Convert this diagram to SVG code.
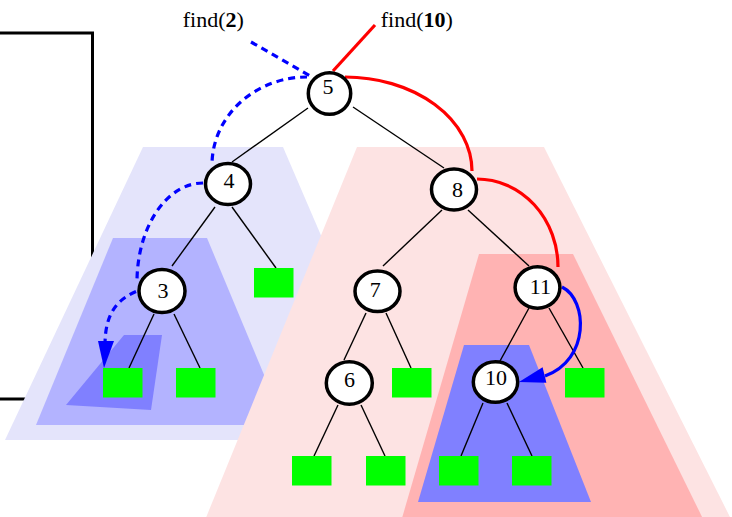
<svg xmlns="http://www.w3.org/2000/svg" width="732" height="517" viewBox="0 0 732 517">
<defs>
<style>
.node ellipse{fill:#fff;stroke:#000;stroke-width:3.5}
.node text{font-family:"Liberation Serif","Times New Roman",serif;font-size:22px;text-anchor:middle;fill:#000}
.leaf{fill:#00ff00}
.edge{stroke:#000;stroke-width:1.4;fill:none}
.red{stroke:#ff0000;stroke-width:3.2;fill:none}
.bdash{stroke:#0000ff;stroke-width:3.2;fill:none;stroke-dasharray:7,5}
.bsolid{stroke:#0000ff;stroke-width:3.2;fill:none}
.lbl{font-family:"Liberation Serif","Times New Roman",serif;font-size:22px;fill:#000}
</style>
</defs>
<rect x="-10" y="33" width="102.5" height="366" fill="none" stroke="#000" stroke-width="3"/>
<g id="regions">
<polygon points="143,147 283,147 409,440 5,440" fill="#e4e4fb"/>
<polygon points="113,238 207,238 285,425 36,425" fill="#b3b3ff"/>
<polygon points="124,335 162,335 151,410 66,405" fill="#8080ff"/>
<polygon points="357,147 544,147 734,525 203,525" fill="#fde3e3"/>
<polygon points="479,254 573,254 706,525 400,525" fill="#ffb3b3"/>
<polygon points="464,345 529,345 591,502 418,502" fill="#8080ff"/>
</g>
<g id="connectors">
<line class="edge" x1="308" y1="108" x2="232" y2="162"/>
<line class="edge" x1="353" y1="107" x2="444" y2="168"/>
<line class="edge" x1="215" y1="207" x2="172" y2="266"/>
<line class="edge" x1="232" y1="207" x2="276" y2="268"/>
<line class="edge" x1="154" y1="314" x2="129" y2="368"/>
<line class="edge" x1="174" y1="314" x2="200" y2="368"/>
<line class="edge" x1="442" y1="210" x2="383" y2="266"/>
<line class="edge" x1="468" y1="210" x2="529" y2="266"/>
<line class="edge" x1="366" y1="313" x2="344" y2="360"/>
<line class="edge" x1="386" y1="313" x2="411" y2="368"/>
<line class="edge" x1="338" y1="405" x2="314" y2="456"/>
<line class="edge" x1="361" y1="405" x2="385" y2="456"/>
<line class="edge" x1="529" y1="308" x2="500" y2="361"/>
<line class="edge" x1="549" y1="308" x2="583" y2="368"/>
<line class="edge" x1="483" y1="403" x2="461" y2="456"/>
<line class="edge" x1="507" y1="403" x2="532" y2="456"/>
<line class="red" x1="375" y1="25" x2="333" y2="71"/>
<path class="red" d="M345,77 A127,94 0 0 1 472,171"/>
<path class="red" d="M477,179 A81,88 0 0 1 558,267"/>
<line class="bdash" x1="251" y1="42" x2="312" y2="77"/>
<path class="bdash" d="M307,77 A95,88 0 0 0 212,165"/>
<path class="bdash" d="M203,183 A66,99 0 0 0 137,282"/>
<path class="bdash" d="M136,291.5 C116,300 105,315 105,345"/>
<path class="bsolid" d="M562,287 C588,300 590,360 545,376"/>
<polygon points="98,341 114,341 104,368" fill="#0000ff"/>
<polygon points="542.6,367.2 546.4,382.8 519,382" fill="#0000ff"/>
</g>
<g id="leaves">
<rect class="leaf" x="103" y="368" width="39.5" height="29.5"/>
<rect class="leaf" x="176" y="368" width="39.5" height="29.5"/>
<rect class="leaf" x="254" y="268" width="39.5" height="29.5"/>
<rect class="leaf" x="392" y="368" width="39.5" height="29.5"/>
<rect class="leaf" x="292" y="456" width="39.5" height="29.5"/>
<rect class="leaf" x="366" y="456" width="39.5" height="29.5"/>
<rect class="leaf" x="565" y="368" width="39.5" height="29.5"/>
<rect class="leaf" x="439" y="456" width="39.5" height="29.5"/>
<rect class="leaf" x="512" y="456" width="39.5" height="29.5"/>
</g>
<g id="n5" class="node"><ellipse cx="329.5" cy="93.5" rx="21.2" ry="20.7"/><text x="328" y="94">5</text></g>
<g id="n4" class="node"><ellipse cx="228" cy="184" rx="22.5" ry="20.5"/><text x="229" y="187.7">4</text></g>
<g id="n3" class="node"><ellipse cx="162" cy="291" rx="23" ry="21.5"/><text x="163" y="298.3">3</text></g>
<g id="n8" class="node"><ellipse cx="454" cy="189.5" rx="22.5" ry="20.5"/><text x="457.5" y="196.7">8</text></g>
<g id="n7" class="node"><ellipse cx="377.5" cy="291.3" rx="22.5" ry="20.3"/><text x="375.3" y="296.7">7</text></g>
<g id="n6" class="node"><ellipse cx="349.3" cy="383" rx="23" ry="21.3"/><text x="349.5" y="386.7">6</text></g>
<g id="n11" class="node"><ellipse cx="537.5" cy="287.5" rx="22.4" ry="20.7"/><text x="540.3" y="294">11</text></g>
<g id="n10" class="node"><ellipse cx="495.5" cy="382" rx="22.2" ry="20.3"/><text x="496" y="385">10</text></g>
<g id="labels">
<text class="lbl" x="182.7" y="26.7">find(<tspan font-weight="bold">2</tspan>)</text>
<text class="lbl" x="380.7" y="26.7">find(<tspan font-weight="bold">10</tspan>)</text>
</g>
</svg>
